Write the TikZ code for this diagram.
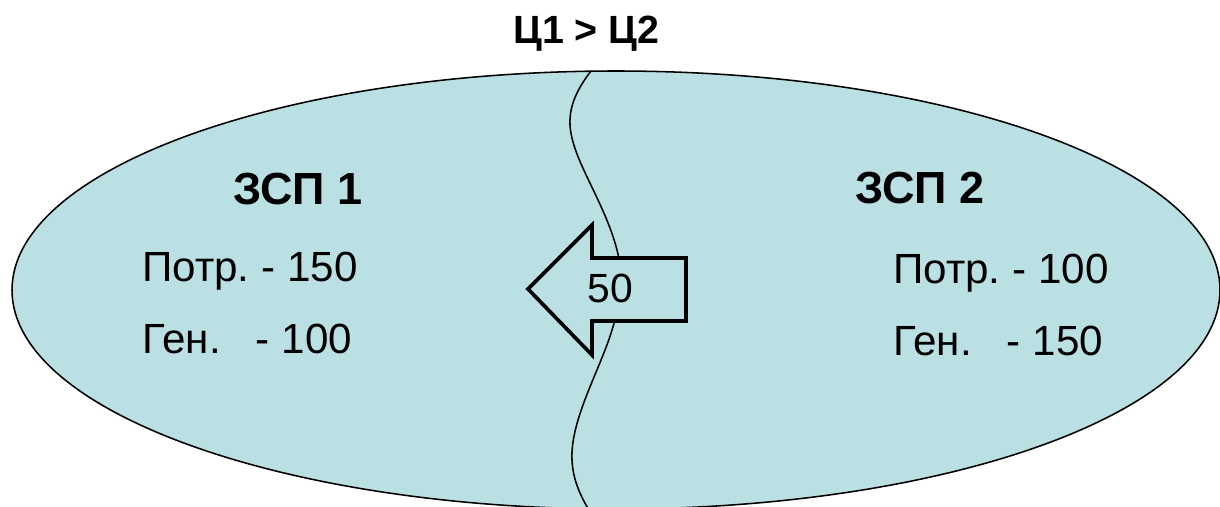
\documentclass[tikz,border=0pt]{standalone}
\usepackage{fontspec}
\setmainfont{Liberation Sans}
\usetikzlibrary{positioning}
\definecolor{zonefill}{RGB}{186,224,227}
\frenchspacing

\begin{document}
\begin{tikzpicture}[x=0.025cm, y=-0.025cm,
    zone/.style={draw, fill=zonefill, line width=1.1pt},
    border/.style={line width=1.1pt},
    flowarr/.style={draw, fill=zonefill, line width=2.6pt, line join=miter},
    head/.style={font=\fontsize{32}{38}\selectfont\bfseries, inner sep=0pt, anchor=base west},
    val/.style={font=\fontsize{30}{36}\selectfont, inner sep=0pt, anchor=base west},
  ]

  \clip (0,0) rectangle (1220,506);

  %% --- price relation ---
  \node[font=\fontsize{28}{34}\selectfont\bfseries, inner sep=0pt, anchor=base west]
    (price) at (513,43) {Ц1 > Ц2};

  %% --- both zones in one ellipse ---
  \draw[zone] (616,290) ellipse [x radius=604, y radius=219];

  %% --- zone border ---
  \draw[border] (591,71) .. controls (578,88) and (569,105) .. (570,125)
    .. controls (572,160) and (604,200) .. (617,250)
    .. controls (625,280) and (620,305) .. (612,330)
    .. controls (600,370) and (570,420) .. (572,460)
    .. controls (573,480) and (580,495) .. (590,512);

  %% --- flow 2 -> 1 ---
  \draw[flowarr] (528,289) -- (592,225) -- (592,258) -- (686,258)
    -- (686,321) -- (592,321) -- (592,355) -- cycle;
  \node[font=\fontsize{29}{34}\selectfont, inner sep=0pt, anchor=base]
    (flow) at (610,302) {50};

  %% --- zone 1 ---
  \node[head] (zsp1)  at (233,204) {ЗСП 1};
  \node[val]  (potr1) at (142,281) {Потр. - 150};
  \node[val]  (gen1)  at (142,353) {Ген.\ \ \ - 100};

  %% --- zone 2 ---
  \node[head] (zsp2)  at (855,203) {ЗСП 2};
  \node[val]  (potr2) at (893,283) {Потр. - 100};
  \node[val]  (gen2)  at (893,355) {Ген.\ \ \ - 150};

\end{tikzpicture}
\end{document}
